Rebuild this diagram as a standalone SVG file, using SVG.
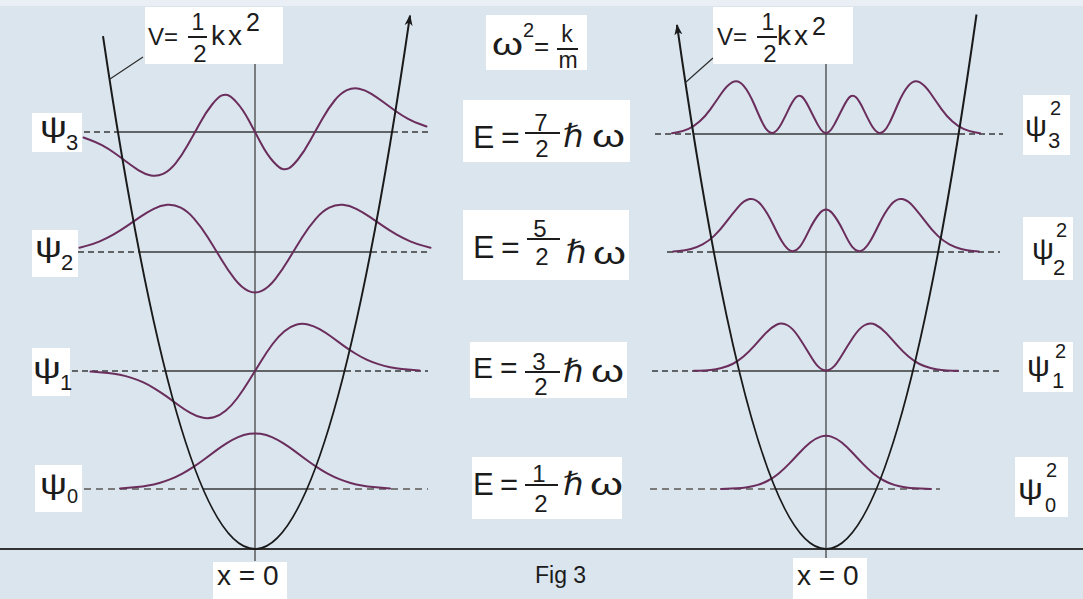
<svg xmlns="http://www.w3.org/2000/svg" width="1083" height="599" viewBox="0 0 1083 599">
<defs>
<marker id="arr" markerUnits="userSpaceOnUse" markerWidth="12" markerHeight="10" refX="10" refY="4" orient="auto-start-reverse" viewBox="0 0 12 8">
<path d="M0,0 L11,4 L0,8 L3,4 z" fill="#1a1a1a"/>
</marker>
<style>
.t{font-family:"Liberation Sans",Arial,sans-serif;fill:#1c1c1c}
.box{fill:#ffffff}
.ax{stroke:#5a5a5a;stroke-width:1.5;fill:none}
.lv{stroke:#3a3a3a;stroke-width:1.6;fill:none}
.ds{stroke:#3a3a3a;stroke-width:1.6;fill:none;stroke-dasharray:6 4}
.dg{stroke:#7a7a7a;stroke-width:1.8;fill:none;stroke-dasharray:7 5}
.wv{stroke:#6a2d5c;stroke-width:2;fill:none;stroke-linejoin:round;stroke-linecap:round}
.pb{stroke:#1a1a1a;stroke-width:2;fill:none}
.ld{stroke:#2a2a2a;stroke-width:1.2;fill:none}
.fr{stroke:#1c1c1c;stroke-width:2}
.hb{font-family:"DejaVu Sans",sans-serif;font-style:italic;fill:#1c1c1c}
</style>
</defs>
<rect x="0" y="0" width="1083" height="599" fill="#dae5ee"/>
<rect x="0" y="0" width="1083" height="6" fill="#e9eff4"/>

<g id="axes">
<line class="ax" x1="255" y1="62" x2="255" y2="561"/>
<line class="ax" x1="826" y1="64" x2="826" y2="561"/>
<line x1="0" y1="549" x2="1083" y2="549" stroke="#333" stroke-width="2"/>
</g>

<g id="levels">
<line class="ds" x1="84" y1="132" x2="118" y2="132"/>
<line class="lv" x1="118" y1="132" x2="392" y2="132"/>
<line class="ds" x1="392" y1="132" x2="428" y2="132"/>
<line class="ds" x1="78" y1="252" x2="139" y2="252"/>
<line class="lv" x1="139" y1="252" x2="371" y2="252"/>
<line class="ds" x1="371" y1="252" x2="428" y2="252"/>
<line class="ds" x1="72" y1="371" x2="166" y2="371"/>
<line class="lv" x1="166" y1="371" x2="345" y2="371"/>
<line class="ds" x1="345" y1="371" x2="428" y2="371"/>
<line class="dg" x1="84" y1="489" x2="203" y2="489"/>
<line class="lv" x1="203" y1="489" x2="307" y2="489"/>
<line class="dg" x1="307" y1="489" x2="428" y2="489"/>

<line class="ds" x1="655" y1="134" x2="693" y2="134" stroke-width="2.5"/>
<line class="lv" x1="693" y1="134" x2="959" y2="134" stroke-width="2.6"/>
<line class="ds" x1="959" y1="134" x2="1003" y2="134" stroke-width="2.5"/>
<line class="ds" x1="667" y1="252" x2="714" y2="252" stroke-width="2"/>
<line class="lv" x1="714" y1="252" x2="938" y2="252"/>
<line class="ds" x1="938" y1="252" x2="1000" y2="252" stroke-width="2"/>
<line class="ds" x1="652" y1="371" x2="739" y2="371" stroke-width="2"/>
<line class="lv" x1="739" y1="371" x2="913" y2="371"/>
<line class="ds" x1="913" y1="371" x2="1000" y2="371" stroke-width="2"/>
<line class="dg" x1="650" y1="489" x2="776" y2="489"/>
<line class="lv" x1="776" y1="489" x2="876" y2="489"/>
<line class="dg" x1="876" y1="489" x2="940" y2="489"/>
</g>

<g id="wavefunctions">
<path id="psi3" class="wv" d="M83.5,137.5 L89.6,139.7 Q95.75,141.9 101.9,145.2 Q108,148.5 114.1,152.8 Q120.25,157.1 126.4,161.8 Q132.5,166.4 138.6,170.3 Q144.75,174.1 150.9,175.4 Q157,176.7 163.1,173.9 Q169.25,171.0 175.4,163.6 Q181.5,156.1 187.6,145.3 Q193.75,134.4 199.9,123.2 Q206,112.0 212.1,104.5 Q218.25,97.0 221.3,95.7 Q224.4,94.4 227.5,95.0 Q230.5,95.6 236.6,102.3 Q242.75,109.0 248.9,120.5 Q255,132 261.1,143.5 Q267.25,155.0 273.4,161.7 Q279.5,168.4 282.6,169.0 Q285.6,169.6 288.7,168.3 Q291.75,167.0 297.9,159.5 Q304,152.0 310.1,140.8 Q316.25,129.6 322.4,118.8 Q328.5,107.9 334.6,100.5 Q340.75,93.0 346.9,90.2 Q353,87.4 359.1,88.7 Q365.25,89.9 371.4,93.8 Q377.5,97.6 383.6,102.3 Q389.75,106.9 395.9,111.2 Q402,115.5 408.1,118.8 Q414.25,122.1 420.4,124.3 L426.5,126.5"/>
<path id="psi2" class="wv" d="M79.5,247.7 L86.25,245.9 Q93,244.1 99.75,241.3 Q106.5,238.5 113.25,234.65 Q120,230.8 126.75,226.15 Q133.5,221.5 140.25,216.85 Q147,212.2 153.75,208.8 Q160.5,205.4 167.25,204.85 Q174,204.3 180.75,207.7 Q187.5,211.1 194.25,218.8 Q201,226.5 207.75,237.25 Q214.5,248.0 221.25,259.25 Q228,270.5 234.75,279.05 Q241.5,287.6 248.25,290.8 Q255,294 261.75,290.8 Q268.5,287.6 275.25,279.05 Q282,270.5 288.75,259.25 Q295.5,248.0 302.25,237.25 Q309,226.5 315.75,218.8 Q322.5,211.1 329.25,207.7 Q336,204.3 342.75,204.85 Q349.5,205.4 356.25,208.8 Q363,212.2 369.75,216.85 Q376.5,221.5 383.25,226.15 Q390,230.8 396.75,234.65 Q403.5,238.5 410.25,241.3 Q417,244.1 423.75,245.9 L430.5,247.7"/>
<path id="psi1" class="wv" d="M90.5,371.6 L96.4,371.95 Q102.25,372.3 108.1,372.95 Q114,373.6 119.9,374.8 Q125.75,376.0 131.6,377.85 Q137.5,379.7 143.4,382.45 Q149.25,385.2 155.1,388.8 Q161,392.4 166.9,396.65 Q172.75,400.9 178.6,405.2 Q184.5,409.5 190.4,412.85 Q196.25,416.2 202.1,417.55 Q208,418.9 213.9,417.3 Q219.75,415.7 225.6,410.8 Q231.5,405.9 237.4,398.0 Q243.25,390.1 249.1,380.55 Q255,371 260.9,361.45 Q266.75,351.9 272.6,344.0 Q278.5,336.1 284.4,331.2 Q290.25,326.3 296.1,324.7 Q302,323.1 307.9,324.45 Q313.75,325.8 319.6,329.15 Q325.5,332.5 331.4,336.8 Q337.25,341.1 343.1,345.35 Q349,349.6 354.9,353.25 Q360.75,356.9 366.6,359.6 Q372.5,362.3 378.4,364.15 Q384.25,366.0 390.1,367.2 Q396,368.4 401.9,369.05 Q407.75,369.7 413.6,370.05 L419.5,370.4"/>
<path id="psi0" class="wv" d="M120,488.4 L125.6,488.05 Q131.25,487.7 136.9,487.1 Q142.5,486.5 148.1,485.5 Q153.75,484.5 159.4,482.95 Q165,481.4 170.6,479.15 Q176.25,476.9 181.9,473.85 Q187.5,470.8 193.1,467.1 Q198.75,463.4 204.4,459.2 Q210,455.0 215.6,450.85 Q221.25,446.7 226.9,443.15 Q232.5,439.6 238.1,437.15 Q243.75,434.7 249.4,433.85 Q255,433 260.6,433.85 Q266.25,434.7 271.9,437.15 Q277.5,439.6 283.1,443.15 Q288.75,446.7 294.4,450.85 Q300,455.0 305.6,459.2 Q311.25,463.4 316.9,467.1 Q322.5,470.8 328.1,473.85 Q333.75,476.9 339.4,479.15 Q345,481.4 350.6,482.95 Q356.25,484.5 361.9,485.5 Q367.5,486.5 373.1,487.1 Q378.75,487.7 384.4,488.05 L390,488.4"/>

<path id="psi3sq" class="wv" d="M672,133.2 L677.5,132.25 Q683,131.3 688.5,128.9 Q694,126.5 699.5,121.6 Q705,116.7 710.5,109.05 Q716,101.4 721.5,93.3 Q727,85.2 732.5,82.15 Q738,79.1 743.5,85.55 Q749,92.0 754.5,105.0 Q760,118.0 762.75,123.4 Q765.5,128.8 768.25,131.35 Q771,133.9 773.75,132.75 Q776.5,131.6 779.25,127.3 Q782,123.0 787.5,111.6 Q793,100.2 795.75,97.6 Q798.5,95.0 801.25,96.25 Q804,97.5 809.5,108.45 Q815,119.4 817.75,124.65 Q820.5,129.9 823.25,131.95 Q826,134 828.75,131.95 Q831.5,129.9 834.25,124.65 Q837,119.4 842.5,108.45 Q848,97.5 850.75,96.25 Q853.5,95.0 856.25,97.6 Q859,100.2 864.5,111.6 Q870,123.0 872.75,127.3 Q875.5,131.6 878.25,132.75 Q881,133.9 883.75,131.35 Q886.5,128.8 889.25,123.4 Q892,118.0 897.5,105.0 Q903,92.0 908.5,85.55 Q914,79.1 919.5,82.15 Q925,85.2 930.5,93.3 Q936,101.4 941.5,109.05 Q947,116.7 952.5,121.6 Q958,126.5 963.5,128.9 Q969,131.3 974.5,132.25 L980,133.2"/>
<path id="psi2sq" class="wv" d="M673.25,251.6 L679.1,251.05 Q685,250.5 690.9,249.05 Q696.75,247.6 702.6,244.45 Q708.5,241.3 714.4,235.65 Q720.25,230.0 726.1,222.15 Q732,214.3 737.9,207.35 Q743.75,200.4 749.6,199.1 Q755.5,197.8 761.4,205.05 Q767.25,212.3 773.1,224.45 Q779,236.6 782.0,241.55 Q784.9,246.5 787.8,249.05 Q790.75,251.6 793.7,251.1 Q796.6,250.6 799.55,247.2 Q802.5,243.8 808.4,231.65 Q814.25,219.5 820.1,212.75 Q826,206 831.9,212.75 Q837.75,219.5 843.6,231.65 Q849.5,243.8 852.45,247.2 Q855.4,250.6 858.3,251.1 Q861.25,251.6 864.2,249.05 Q867.1,246.5 870.0,241.55 Q873,236.6 878.9,224.45 Q884.75,212.3 890.6,205.05 Q896.5,197.8 902.4,199.1 Q908.25,200.4 914.1,207.35 Q920,214.3 925.9,222.15 Q931.75,230.0 937.6,235.65 Q943.5,241.3 949.4,244.45 Q955.25,247.6 961.1,249.05 Q967,250.5 972.9,251.05 L978.75,251.6"/>
<path id="psi1sq" class="wv" d="M694,370.8 L699.5,370.65 Q705,370.5 710.5,369.95 Q716,369.4 721.5,368.05 Q727,366.7 732.5,364.0 Q738,361.3 743.5,356.6 Q749,351.9 754.5,345.7 Q760,339.5 765.5,333.45 Q771,327.4 776.5,324.75 Q782,322.1 787.5,325.25 Q793,328.4 798.5,336.75 Q804,345.1 809.5,354.15 Q815,363.2 817.75,366.1 Q820.5,369.0 823.25,370.0 Q826,371 828.75,370.0 Q831.5,369.0 834.25,366.1 Q837,363.2 842.5,354.15 Q848,345.1 853.5,336.75 Q859,328.4 864.5,325.25 Q870,322.1 875.5,324.75 Q881,327.4 886.5,333.45 Q892,339.5 897.5,345.7 Q903,351.9 908.5,356.6 Q914,361.3 919.5,364.0 Q925,366.7 930.5,368.05 Q936,369.4 941.5,369.95 Q947,370.5 952.5,370.65 L958,370.8"/>
<path id="psi0sq" class="wv" d="M721,488.9 L726.25,488.8 Q731.5,488.7 736.75,488.35 Q742,488.0 747.25,487.25 Q752.5,486.5 757.75,484.9 Q763,483.3 768.25,480.5 Q773.5,477.7 778.75,473.4 Q784,469.1 789.25,463.65 Q794.5,458.2 799.75,452.55 Q805,446.9 810.25,442.6 Q815.5,438.3 820.75,436.65 Q826,435 831.25,436.65 Q836.5,438.3 841.75,442.6 Q847,446.9 852.25,452.55 Q857.5,458.2 862.75,463.65 Q868,469.1 873.25,473.4 Q878.5,477.7 883.75,480.5 Q889,483.3 894.25,484.9 Q899.5,486.5 904.75,487.25 Q910,488.0 915.25,488.35 Q920.5,488.7 925.75,488.8 L931,488.9"/>
</g>

<g id="connectors">
<path id="potential-left" class="pb" d="M103,36.1 Q256.5,1072 410,15.6" marker-end="url(#arr)"/>
<path id="potential-right" class="pb" d="M677,25 Q826.75,1078.2 976.5,14.5" marker-start="url(#arr)"/>
<line class="ld" x1="110" y1="79" x2="143" y2="57"/>
<line class="ld" x1="686" y1="82" x2="713" y2="58"/>
</g>

<g id="label-V-left">
<rect class="box" x="145" y="7" width="138" height="57"/>
<text class="t" x="148" y="45" font-size="24">V=</text>
<text class="t" x="198" y="30" font-size="23" text-anchor="middle">1</text>
<line class="fr" x1="188" y1="37" x2="207" y2="37"/>
<text class="t" x="200" y="62" font-size="24" text-anchor="middle">2</text>
<text class="t" x="211" y="45" font-size="28">k</text>
<text class="t" x="228" y="45" font-size="28">x</text>
<text class="t" x="246" y="31" font-size="25">2</text>
</g>

<g id="label-V-right">
<rect class="box" x="713" y="7" width="140" height="57"/>
<text class="t" x="717" y="45" font-size="24">V=</text>
<text class="t" x="768" y="30" font-size="23" text-anchor="middle">1</text>
<line class="fr" x1="757" y1="37" x2="777" y2="37"/>
<text class="t" x="770" y="62" font-size="24" text-anchor="middle">2</text>
<text class="t" x="777" y="45" font-size="28">k</text>
<text class="t" x="794" y="45" font-size="28">x</text>
<text class="t" x="812" y="35" font-size="25">2</text>
</g>

<g id="label-omega">
<rect class="box" x="486" y="15" width="101" height="55"/>
<text class="t" x="492" y="55" font-size="32" textLength="31" lengthAdjust="spacingAndGlyphs">ω</text>
<text class="t" x="523" y="37" font-size="20">2</text>
<text class="t" x="534" y="55" font-size="26">=</text>
<text class="t" x="567" y="42" font-size="23" text-anchor="middle">k</text>
<line class="fr" x1="557" y1="49" x2="578" y2="49"/>
<text class="t" x="568" y="68" font-size="23" text-anchor="middle">m</text>
</g>

<g id="energy-3">
<rect class="box" x="463" y="100" width="167" height="62"/>
<text class="t" x="473" y="148" font-size="32">E</text>
<text class="t" x="501" y="148" font-size="32">=</text>
<text class="t" x="541" y="131" font-size="24" text-anchor="middle">7</text>
<line class="fr" x1="525" y1="133" x2="560" y2="133"/>
<text class="t" x="542" y="157" font-size="24" text-anchor="middle">2</text>
<text class="hb" x="563" y="147" font-size="32">ℏ</text>
<text class="t" x="592" y="147" font-size="32" textLength="33" lengthAdjust="spacingAndGlyphs">ω</text>
</g>

<g id="energy-2">
<rect class="box" x="463" y="210" width="166" height="70"/>
<text class="t" x="473" y="258" font-size="32">E</text>
<text class="t" x="501" y="258" font-size="32">=</text>
<text class="t" x="540" y="237" font-size="24" text-anchor="middle">5</text>
<line class="fr" x1="527" y1="239" x2="560" y2="239"/>
<text class="t" x="542" y="265" font-size="24" text-anchor="middle">2</text>
<text class="hb" x="566" y="263" font-size="32">ℏ</text>
<text class="t" x="593" y="264" font-size="32" textLength="33" lengthAdjust="spacingAndGlyphs">ω</text>
</g>

<g id="energy-1">
<rect class="box" x="470" y="342" width="157" height="56"/>
<text class="t" x="473" y="378" font-size="30">E</text>
<text class="t" x="500" y="378" font-size="30">=</text>
<text class="t" x="539" y="370" font-size="24" text-anchor="middle">3</text>
<line class="fr" x1="525" y1="372" x2="560" y2="372"/>
<text class="t" x="541" y="395" font-size="24" text-anchor="middle">2</text>
<text class="hb" x="563" y="382" font-size="32">ℏ</text>
<text class="t" x="591" y="382" font-size="32" textLength="33" lengthAdjust="spacingAndGlyphs">ω</text>
</g>

<g id="energy-0">
<rect class="box" x="472" y="457" width="150" height="62"/>
<text class="t" x="473" y="495" font-size="31">E</text>
<text class="t" x="500" y="495" font-size="31">=</text>
<text class="t" x="539" y="482" font-size="24" text-anchor="middle">1</text>
<line class="fr" x1="525" y1="485" x2="558" y2="485"/>
<text class="t" x="541" y="512" font-size="24" text-anchor="middle">2</text>
<text class="hb" x="563" y="495" font-size="32">ℏ</text>
<text class="t" x="590" y="495" font-size="32" textLength="33" lengthAdjust="spacingAndGlyphs">ω</text>
</g>

<g id="label-psi3">
<rect class="box" x="32" y="113" width="50" height="39"/>
<text class="t" x="40" y="137" font-size="30" textLength="27" lengthAdjust="spacingAndGlyphs">ψ</text>
<text class="t" x="66" y="150" font-size="22">3</text>
</g>
<g id="label-psi2">
<rect class="box" x="32" y="230" width="46" height="47"/>
<text class="t" x="35" y="257" font-size="30" textLength="27" lengthAdjust="spacingAndGlyphs">ψ</text>
<text class="t" x="61" y="270" font-size="22">2</text>
</g>
<g id="label-psi1">
<rect class="box" x="32" y="348" width="38" height="48"/>
<text class="t" x="33" y="378" font-size="30" textLength="28" lengthAdjust="spacingAndGlyphs">ψ</text>
<text class="t" x="60" y="390" font-size="22">1</text>
</g>
<g id="label-psi0">
<rect class="box" x="35" y="465" width="47" height="47"/>
<text class="t" x="40" y="494" font-size="30" textLength="27" lengthAdjust="spacingAndGlyphs">ψ</text>
<text class="t" x="67" y="503" font-size="20">0</text>
</g>

<g id="label-psi3sq">
<rect class="box" x="1023" y="95" width="47" height="60"/>
<text class="t" x="1025" y="136" font-size="30" textLength="22" lengthAdjust="spacingAndGlyphs">ψ</text>
<text class="t" x="1050" y="115" font-size="20">2</text>
<text class="t" x="1048" y="148" font-size="22">3</text>
</g>
<g id="label-psi2sq">
<rect class="box" x="1023" y="217" width="50" height="63"/>
<text class="t" x="1032" y="259" font-size="30" textLength="22" lengthAdjust="spacingAndGlyphs">ψ</text>
<text class="t" x="1056" y="237" font-size="20">2</text>
<text class="t" x="1053" y="275" font-size="22">2</text>
</g>
<g id="label-psi1sq">
<rect class="box" x="1023" y="342" width="50" height="50"/>
<text class="t" x="1027" y="376" font-size="30" textLength="23" lengthAdjust="spacingAndGlyphs">ψ</text>
<text class="t" x="1055" y="358" font-size="20">2</text>
<text class="t" x="1052" y="388" font-size="22">1</text>
</g>
<g id="label-psi0sq">
<rect class="box" x="1015" y="457" width="53" height="60"/>
<text class="t" x="1018" y="499" font-size="30" textLength="25" lengthAdjust="spacingAndGlyphs">ψ</text>
<text class="t" x="1046" y="477" font-size="20">2</text>
<text class="t" x="1045" y="512" font-size="20">0</text>
</g>

<g id="label-x0-left">
<rect class="box" x="213" y="562" width="74" height="37"/>
<text class="t" x="217" y="585" font-size="28">x = 0</text>
</g>
<g id="label-x0-right">
<rect class="box" x="793" y="558" width="74" height="41"/>
<text class="t" x="797" y="585" font-size="28">x = 0</text>
</g>
<g id="caption">
<text class="t" x="535" y="583" font-size="23">Fig 3</text>
</g>
</svg>
